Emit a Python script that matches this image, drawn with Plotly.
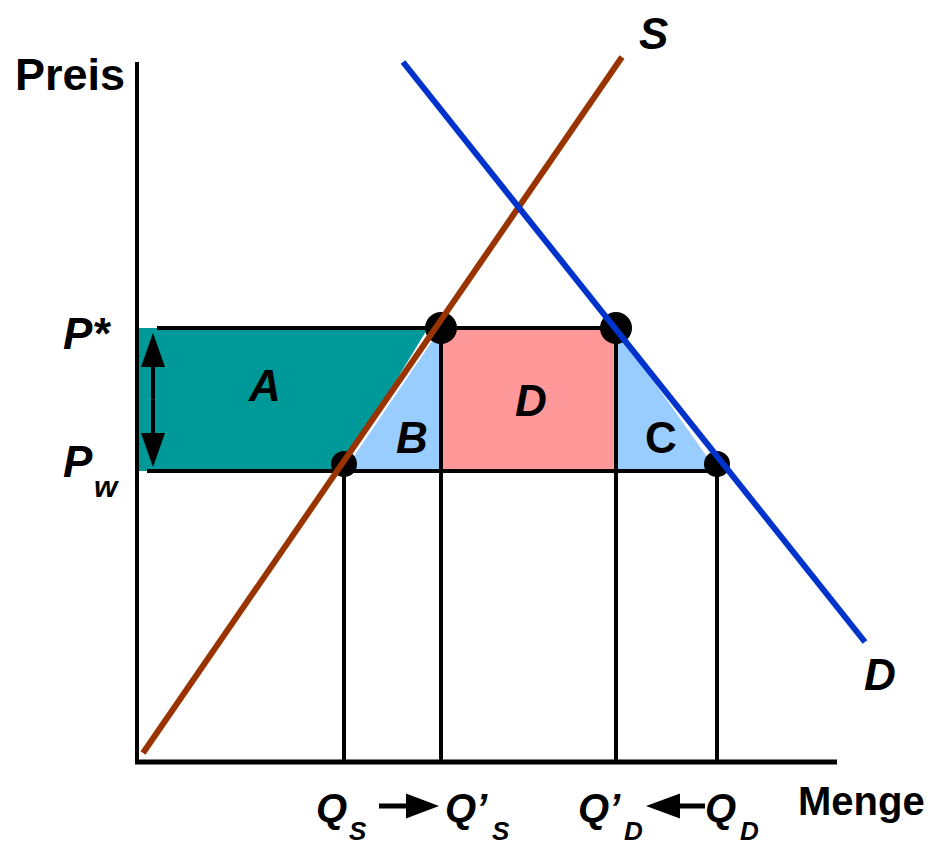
import plotly.graph_objects as go

# ---- data (quantity / price units) ----
P_star = 43.4
P_w = 29.1
Q_S = 20.7
Q_S_new = 30.4
Q_D_new = 47.9
Q_D = 58.0

supply_x = [0.6, 48.5]
supply_y = [0.9, 70.5]
demand_x = [26.6, 72.8]
demand_y = [70.0, 12.0]

axis_x_max = 70.0
axis_y_max = 70.0

dot_x = [Q_S_new, Q_D_new]
dot_y = [P_star, P_star]
small_dot_x = [Q_S, Q_D]
small_dot_y = [P_w, P_w]

FONT = "Liberation Sans, Arial, Helvetica, sans-serif"
TEAL = "#009999"
LBLUE = "#99CCFF"
PINK = "#FF9999"
BROWN = "#993300"
BLUE = "#0033CC"

fig = go.Figure()

def poly(xs, ys, color):
    fig.add_trace(go.Scatter(x=xs + [xs[0]], y=ys + [ys[0]], fill="toself",
                             fillcolor=color, mode="lines", line=dict(width=0),
                             hoverinfo="skip", showlegend=False))

def line(xs, ys, color="black", width=4):
    fig.add_trace(go.Scatter(x=xs, y=ys, mode="lines",
                             line=dict(color=color, width=width),
                             hoverinfo="skip", showlegend=False, cliponaxis=False))

# areas
poly([0.2, Q_S_new - 1.3, Q_S - 0.3, 0.2], [P_star, P_star, P_w, P_w], TEAL)   # A
poly([Q_S, Q_S_new, Q_S_new], [P_w, P_w, P_star], LBLUE)                        # B
poly([Q_S_new, Q_D_new, Q_D_new, Q_S_new], [P_w, P_w, P_star, P_star], PINK)    # D
poly([Q_D_new, Q_D, Q_D_new], [P_w, P_w, P_star], LBLUE)                         # C

# axes
line([0, 0], [0, axis_y_max], width=4)
line([-0.2, axis_x_max], [0, 0], width=5)

# price lines
line([2.0, Q_D_new], [P_star, P_star])
line([1.0, Q_D], [P_w, P_w])

# quantity drop lines
for q, p in [(Q_S, P_w), (Q_S_new, P_star), (Q_D_new, P_star), (Q_D, P_w)]:
    line([q, q], [p, 0])

# dots
fig.add_trace(go.Scatter(x=dot_x, y=dot_y, mode="markers",
                         marker=dict(color="black", size=32), hoverinfo="skip",
                         showlegend=False))
fig.add_trace(go.Scatter(x=small_dot_x, y=[v + 0.7 for v in small_dot_y], mode="markers",
                         marker=dict(color="black", size=26), hoverinfo="skip",
                         showlegend=False))

# supply & demand
line(supply_x, supply_y, BROWN, 6)
line(demand_x, demand_y, BLUE, 6)

# arrows as shaft + filled head
def arrow(x0, y0, x1, y1, head_len, head_half, width=4):
    dx, dy = x1 - x0, y1 - y0
    L = (dx * dx + dy * dy) ** 0.5
    ux, uy = dx / L, dy / L
    bx, by = x1 - ux * head_len, y1 - uy * head_len
    line([x0, bx], [y0, by], width=width)
    px, py = -uy, ux
    poly([x1, bx + px * head_half, bx - px * head_half],
         [y1, by + py * head_half, by - py * head_half], "black")

# double arrow between P* and Pw
mid = (P_star + P_w) / 2
arrow(1.6, mid, 1.6, P_star - 0.5, 3.4, 1.2)
arrow(1.6, mid, 1.6, P_w + 0.4, 3.4, 1.2)
# quantity arrows
arrow(Q_S + 3.5, -4.4, Q_S_new - 0.2, -4.4, 3.3, 1.25, width=5)
arrow(Q_D - 1.2, -4.4, Q_D_new + 3.0, -4.4, 3.4, 1.25, width=5)

def text(x, y, s, size=44, italic=False, bold=True):
    t = s
    if italic:
        t = "<i>" + t + "</i>"
    if bold:
        t = "<b>" + t + "</b>"
    fig.add_annotation(x=x, y=y, text=t, showarrow=False, xanchor="center",
                       yanchor="middle", font=dict(family=FONT, size=size, color="black"))

text(-6.7, 68.8, "Preis", 45)
text(-5.0, 42.9, "P*", 44, italic=True)
text(-5.9, 30.1, "P", 44, italic=True)
text(-3.1, 27.6, "w", 30, italic=True)
text(12.7, 37.7, "A", 44, italic=True)
text(27.5, 32.5, "B", 44, italic=True)
text(39.4, 36.2, "D", 44, italic=True)
text(52.4, 32.5, "C", 44)
text(51.6, 72.9, "S", 44, italic=True)
text(74.3, 8.8, "D", 44, italic=True)
text(72.4, -3.9, "Menge", 40)

text(Q_S - 1.3, -4.6, "Q", 40, italic=True)
text(Q_S + 1.4, -6.9, "S", 26, italic=True)
text(Q_S_new + 2.5, -4.6, "Q’", 40, italic=True)
text(Q_S_new + 6.0, -6.9, "S", 26, italic=True)
text(Q_D_new - 1.7, -4.6, "Q’", 40, italic=True)
text(Q_D_new + 1.7, -6.9, "D", 26, italic=True)
text(Q_D + 0.3, -4.6, "Q", 40, italic=True)
text(Q_D + 3.2, -6.9, "D", 26, italic=True)

# page body has an 8px margin: figure is 926x838 placed at (8, 8)
fig.update_layout(
    width=926, height=838,
    margin=dict(l=0, r=0, t=0, b=0),
    paper_bgcolor="white", plot_bgcolor="white",
    xaxis=dict(range=[-12.9, 79.7], visible=False, fixedrange=True),
    yaxis=dict(range=[-8.4, 75.4], visible=False, fixedrange=True),
    showlegend=False,
)

fig.write_html("out.html")
